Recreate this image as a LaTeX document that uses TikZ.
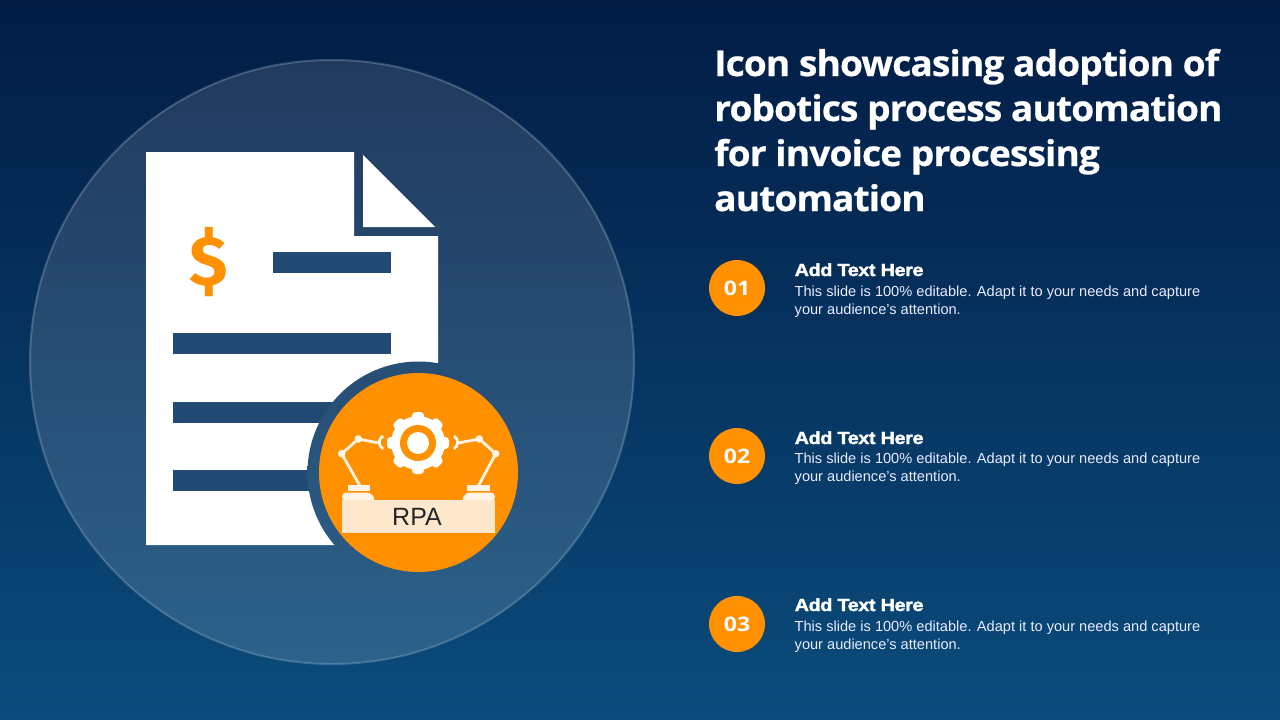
\documentclass[tikz,border=0pt]{standalone}
\usepackage{fontspec}
\setmainfont{Liberation Sans}
\newfontfamily\titlefont{Open Sans}[UprightFont=* Bold,LetterSpace=-2.5,FakeBold=0.6,FakeStretch=1.045]
\newfontfamily\numfont{Open Sans}[UprightFont=* Bold,FakeStretch=1.15]
\newfontfamily\dollarfont{Fira Sans}[UprightFont=* Bold]
\newfontfamily\headfont{Liberation Sans Bold}[FakeStretch=1.13,FakeBold=2,LetterSpace=-2.2]
\usetikzlibrary{calc}
\definecolor{bgtop}{HTML}{021C44}
\definecolor{bgbot}{HTML}{0A4C7C}
\definecolor{circtop}{HTML}{223A5E}
\definecolor{circbot}{HTML}{2C628B}
\definecolor{barcol}{HTML}{234A72}
\definecolor{orangec}{HTML}{FF9100}
\definecolor{tablec}{HTML}{FDE8CE}
\definecolor{pedc}{HTML}{FFF4E6}
\tikzset{
  x=1pt,y=-1pt,
  bar/.style={fill=barcol,draw=none},
  titleline/.style={anchor=base west,inner sep=0pt,text=white,font=\titlefont\fontsize{35.5}{40}\selectfont},
  numdisc/.style={circle,fill=orangec,minimum size=56pt,inner sep=0pt,text=white,font=\numfont\fontsize{20}{22}\selectfont},
  headline/.style={anchor=base west,inner sep=0pt,text=white,font=\headfont\fontsize{17.5}{20}\selectfont},
  bodyline/.style={anchor=base west,inner sep=0pt,text=white!92!blue,font=\fontsize{14.6}{17}\selectfont},
  arm/.style={draw=pedc,line width=2.8pt},
  joint/.style={fill=pedc,draw=none},
  claw/.style={draw=white,line width=2.6pt},
}
\begin{document}
\begin{tikzpicture}
\useasboundingbox (0,0) rectangle (1280,720);
\shade[top color=bgtop,bottom color=bgbot,shading angle=0] (0,0) rectangle (1280,720);
% big circle
\shade[top color=circtop,bottom color=circbot] (332,362) circle[radius=302];
\draw[draw=white!50!circbot,opacity=.35,line width=2pt] (332,362) circle[radius=302];
% document
\fill[white] (146,152) -- (354,152) -- (354,236) -- (438,236) -- (438,545) -- (146,545) -- cycle;
\fill[white] (363,155) -- (435,227) -- (363,227) -- cycle;
\fill[bar] (273,252) rectangle (391,273);
\fill[bar] (173,333) rectangle (391,354);
\fill[bar] (173,402) rectangle (391,423);
\fill[bar] (173,470) rectangle (391,491);
\node[anchor=center,inner sep=0pt,text=orangec,font=\fontsize{70}{80}\selectfont\dollarfont] (dollar) at (209,262.5) {\$};
% badge: ring shows the big circle's shading
\begin{scope}
\clip (418.5,472.5) circle[radius=111];
\shade[top color=circtop,bottom color=circbot] (332,362) circle[radius=302];
\end{scope}
\fill[orangec] (418.5,472.5) circle[radius=99.5];
% gear
\foreach \a in {0,45,...,315}{
  \fill[white,rounded corners=3.5pt,rotate around={\a:(418,443)}] (412,412) rectangle (424,426);
}
\fill[white] (418,443) circle[radius=27];
\fill[orangec] (418,443) circle[radius=18];
\fill[white] (418,443) circle[radius=11];
% left arm
\draw[arm] (360,486) -- (341.7,453.7) -- (358.3,439) -- (379,443);
\fill[joint] (341.7,453.7) circle[radius=3.8];
\fill[joint] (358.3,439) circle[radius=3.8];
\draw[claw] (383,436) .. controls (378,439) and (378,445) .. (383,449);
% right arm
\draw[arm] (478.3,486) -- (495.7,453.7) -- (479.3,439) -- (458,443);
\fill[joint] (495.7,453.7) circle[radius=3.8];
\fill[joint] (479.3,439) circle[radius=3.8];
\draw[claw] (454,436) .. controls (459,439) and (459,445) .. (454,449);
% bases
\fill[pedc] (347.5,485) rectangle (369.5,491);
\fill[pedc] (467,485) rectangle (489.5,491);
\fill[pedc,rounded corners=4pt] (342,501) -- (342,492.5) -- (371,492.5) -- (376,501) -- cycle;
\fill[pedc,rounded corners=4pt] (495,501) -- (495,492.5) -- (466,492.5) -- (461,501) -- cycle;
\fill[tablec] (342,500) rectangle (495,533);
\node[inner sep=0pt,text=black!85,font=\fontsize{25}{26}\selectfont] (rpa) at (417,517) {RPA};
% title
\node[titleline] (t1) at (714,76) {Icon showcasing adoption of};
\node[titleline] (t2) at (714,121) {robotics process automation};
\node[titleline] (t3) at (714,166) {for invoice processing};
\node[titleline] (t4) at (714,211) {automation};
% items
\node[numdisc] (n1) at (737,288) {01};
\node[headline] (h1) at (794.5,276) {Add Text Here};
\node[bodyline] (a1) at (794.5,296) {This slide is 100\% editable. Adapt it to your needs and capture};
\node[bodyline] (b1) at (794.5,314) {your audience's attention.};
\node[numdisc] (n2) at (737,456) {02};
\node[headline] (h2) at (794.5,444) {Add Text Here};
\node[bodyline] (a2) at (794.5,463) {This slide is 100\% editable. Adapt it to your needs and capture};
\node[bodyline] (b2) at (794.5,481) {your audience's attention.};
\node[numdisc] (n3) at (737,624) {03};
\node[headline] (h3) at (794.5,611) {Add Text Here};
\node[bodyline] (a3) at (794.5,631) {This slide is 100\% editable. Adapt it to your needs and capture};
\node[bodyline] (b3) at (794.5,649) {your audience's attention.};
\end{tikzpicture}
\end{document}
